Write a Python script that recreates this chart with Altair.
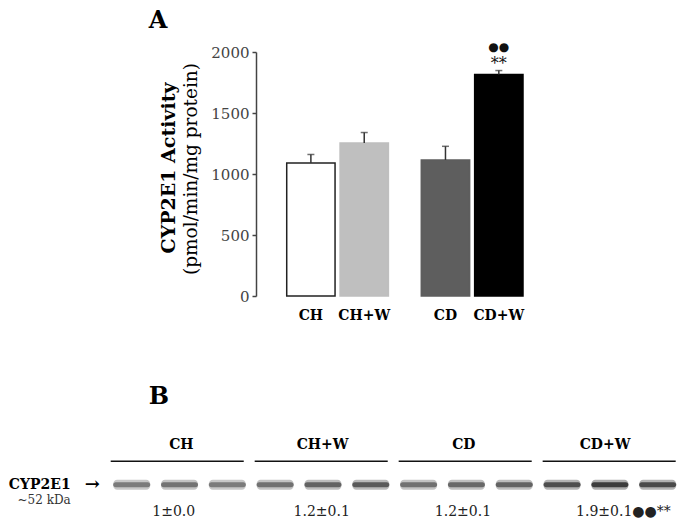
import altair as alt
import pandas as pd

FONT = "DejaVu Serif"

# ---------------- Panel A data ----------------
groups = ["CH", "CH+W", "CD", "CD+W"]
diet = ["CH", "CH", "CD", "CD"]
activity = [1090, 1255, 1115, 1815]
sem = [70, 85, 112, 33]
sig_stars = ["", "", "", "**"]
sig_dots = ["", "", "", "●●"]
y_ticks = [0, 500, 1000, 1500, 2000]
y_title = "CYP2E1 Activity"
y_unit = ["(pmol/min/mg protein)"]

# ---------------- Panel B data ----------------
lanes = ["1", "2", "3"]
band_density = [
    [0.52, 0.55, 0.52],
    [0.56, 0.62, 0.66],
    [0.56, 0.60, 0.62],
    [0.72, 0.80, 0.74],
]
ratio_text = ["1±0.0", "1.2±0.1", "1.2±0.1", "1.9±0.1●●**"]
protein = ["CYP2E1"]
mol_weight = ["~52 kDa"]
pointer = ["→"]
blot_rows = ["label", "line", "band", "value"]

bar_fill = ["#ffffff", "#bfbfbf", "#5e5e5e", "#000000"]
bar_stroke = ["#222222", "#bfbfbf", "#5e5e5e", "#000000"]

dfA = pd.DataFrame(dict(group=groups, diet=diet, activity=activity, sem=sem,
                        stars=sig_stars, dots=sig_dots))
yA = alt.Scale(domain=[0, 2000], nice=False, zero=True)


def panel_a(diet_name, width, pad_outer, with_axis):
    df = dfA[dfA["diet"] == diet_name]
    dom = list(df["group"])
    x = alt.X("group:N", sort=dom,
              scale=alt.Scale(domain=dom, paddingInner=0.094, paddingOuter=pad_outer, align=1),
              axis=None)
    if with_axis:
        yax = alt.Axis(values=y_ticks, format="d", title=y_title, grid=False, orient="left",
                       domainColor="#444", domainWidth=1.5, tickColor="#444", tickWidth=1.5,
                       tickSize=4, labelPadding=3, labelFontSize=15, labelColor="#444",
                       labelFont=FONT, titleFont=FONT, titleFontSize=19,
                       titleFontWeight="bold", titleColor="black", titlePadding=32,
                       titleY=115.5, minExtent=0)
    else:
        yax = None

    def ypos(field):
        return alt.Y(field, scale=yA, axis=yax)

    base = alt.Chart(df).transform_calculate(top="datum.activity + datum.sem", zero="0")
    bars = base.mark_bar(strokeWidth=1.5).encode(
        x=x,
        y=ypos("activity:Q"),
        fill=alt.Fill("group:N", scale=alt.Scale(domain=groups, range=bar_fill), legend=None),
        stroke=alt.Stroke("group:N", scale=alt.Scale(domain=groups, range=bar_stroke),
                          legend=None),
    )
    err = base.mark_rule(color="#333", strokeWidth=1.5).encode(
        x=x, y=ypos("activity:Q"), y2="top:Q")
    caps = base.mark_tick(color="#333", thickness=1.5, size=7).encode(
        x=x, y=ypos("top:Q"))
    labels = base.mark_text(dy=20, fontWeight="bold", fontSize=14, baseline="middle").encode(
        x=x, y=ypos("zero:Q"), text="group:N")
    stars = base.mark_text(dy=-7, fontSize=16, baseline="middle", color="#111").encode(
        x=x, y=ypos("top:Q"), text="stars:N")
    dots = base.mark_text(dy=-24, fontSize=12, baseline="middle", color="#111").encode(
        x=x, y=ypos("top:Q"), text="dots:N")
    layers = [bars, err, caps, labels, stars, dots]
    if with_axis:
        unit = alt.Chart(pd.DataFrame({"unit": y_unit})).mark_text(
            angle=270, fontSize=18.5, baseline="middle", align="center").encode(
            x=alt.value(-65.3), y=alt.value(117), text="unit:N")
        layers.append(unit)
    ch = alt.layer(*layers).properties(width=width, height=244)
    if with_axis:
        ch = ch.properties(title=alt.TitleParams(
            "A", anchor="start", frame="group", dx=-107.3, dy=6.5, fontSize=24,
            fontWeight="bold", baseline="alphabetic", offset=0, font=FONT))
    return ch


A1 = panel_a("CH", 132.4, 0.2879, True)
A2 = panel_a("CD", 101.7, 0.0, False)

# ---------------- Panel B ----------------
dfG = pd.DataFrame({"group": groups, "ratio": ratio_text})
lane_ids = [f"{g}-{l}" for g in groups for l in lanes]
dfBand = pd.DataFrame([{"lane": f"{g}-{l}", "density": d}
                       for g, ds in zip(groups, band_density) for l, d in zip(lanes, ds)])
dfProt = pd.DataFrame({"protein": protein, "mw": mol_weight, "pointer": pointer})

x_group = alt.X("group:N", sort=groups,
                scale=alt.Scale(domain=groups, range=[-145.3, 419.7], paddingInner=0.076,
                                paddingOuter=0),
                axis=None)
x_lane = alt.X("lane:N", sort=lane_ids,
               scale=alt.Scale(domain=lane_ids, range=[-142.8, 420.2], paddingInner=0.226,
                               paddingOuter=0),
               axis=None)
y_b_scale = alt.Scale(type="point", domain=blot_rows, padding=0)


def yrow():
    return alt.Y("row:N", scale=y_b_scale, axis=None)


gbase = alt.Chart(dfG)
glabels = gbase.transform_calculate(row="'label'").mark_text(
    fontWeight="bold", fontSize=14, dy=6.6, baseline="middle").encode(
    x=x_group, y=yrow(), text="group:N")
glines = gbase.transform_calculate(row="'line'").mark_bar(height=1.5, color="#111").encode(
    x=x_group, y=yrow())
gvals = gbase.transform_calculate(row="'value'").mark_text(
    fontSize=14, align="left", dx=-29, dy=3.7, baseline="middle", color="#222").encode(
    x=x_group, y=yrow(), text="ratio:N")

bbase = alt.Chart(dfBand).transform_calculate(row="'band'")
shade = alt.Color("density:Q", scale=alt.Scale(domain=[0, 1], range=["#ffffff", "#000000"]),
                  legend=None)
halo = bbase.mark_bar(height=10, cornerRadius=4, opacity=0.4).encode(
    x=x_lane, y=yrow(), color=shade)
core = bbase.mark_bar(height=5, cornerRadius=2.5, opacity=0.9).encode(
    x=x_lane, y=yrow(), color=shade)

pbase = alt.Chart(dfProt).transform_calculate(row="'band'")
p1 = pbase.mark_text(fontWeight="bold", fontSize=14, align="right", baseline="middle").encode(
    x=alt.value(-185.3), y=yrow(), text="protein:N")
p_arrow = pbase.mark_text(fontWeight="bold", fontSize=18, align="center",
                          baseline="middle").encode(
    x=alt.value(-163.8), y=yrow(), text="pointer:N")
p2 = pbase.mark_text(fontSize=12, align="right", baseline="middle", dy=15, color="#333").encode(
    x=alt.value(-185.3), y=yrow(), text="mw:N")

B = alt.layer(glines, halo, core, glabels, gvals, p1, p_arrow, p2).resolve_scale(
    x="independent"
).properties(
    width=132.4, height=70,
    title=alt.TitleParams("B", anchor="start", frame="group", dx=-107.3, fontSize=24,
                          fontWeight="bold", baseline="alphabetic", offset=10, font=FONT),
)

chart = alt.concat(A1, A2, B, columns=2, spacing={"row": 142, "column": 32.3},
                   bounds="flush", align="each").properties(
    padding={"left": 0, "top": 0, "right": 2, "bottom": 2}
).configure(font=FONT).configure_view(stroke=None)

chart.save("out.html", embed_options={"renderer": "svg", "actions": False})
